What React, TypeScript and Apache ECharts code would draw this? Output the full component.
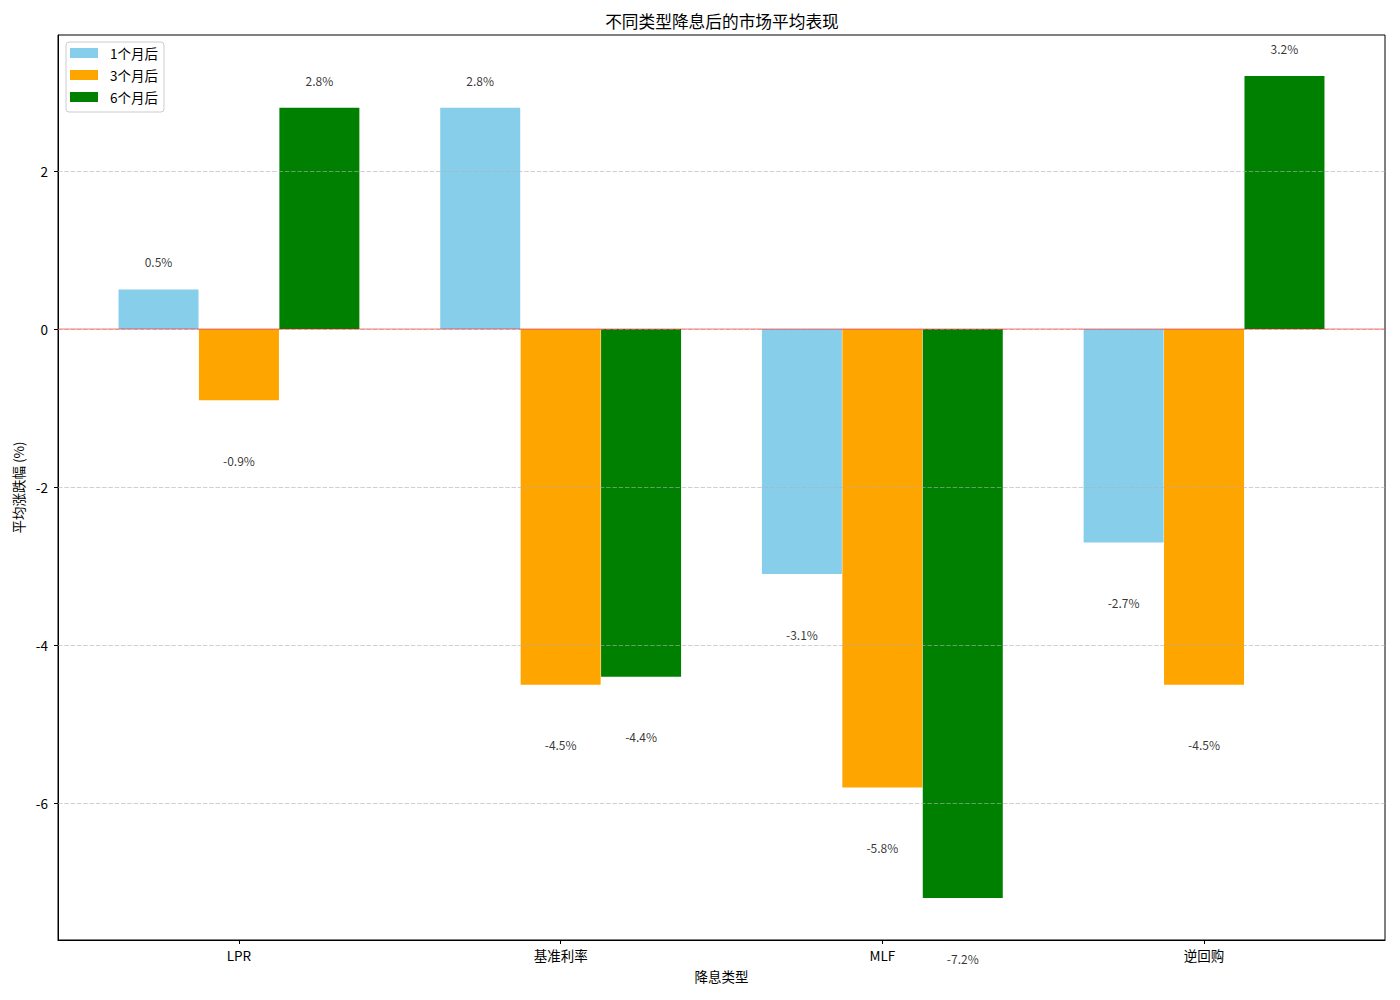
import React, { useEffect, useRef } from "react";
import * as echarts from "echarts";

const categories = ["LPR", "基准利率", "MLF", "逆回购"];
const seriesNames = ["1个月后", "3个月后", "6个月后"];
const oneMonth = [0.5, 2.8, -3.1, -2.7];
const threeMonth = [-0.9, -4.5, -5.8, -4.5];
const sixMonth = [2.8, -4.4, -7.2, 3.2];
const yTicks = [-6, -4, -2, 0, 2];
const colors = ["#87CEEB", "#FFA500", "#008000"];

const FONT = "'Noto Sans CJK SC', 'DejaVu Sans', sans-serif";

export default function App() {
  const ref = useRef<HTMLDivElement>(null);
  useEffect(() => {
    if (!ref.current) return;
    const chart = echarts.init(ref.current, undefined, { renderer: "svg" });
    const allSeries = [oneMonth, threeMonth, sixMonth];
    const offsets = [-0.25, 0, 0.25];

    const barSeries: any[] = allSeries.map((vals, s) => ({
      name: seriesNames[s],
      type: "bar",
      barWidth: 80,
      barGap: "-100%",
      itemStyle: { color: colors[s] },
      data: vals.map((v, i) => [i + offsets[s], v]),
      z: 2,
    }));

    barSeries[0].markLine = {
      silent: true,
      symbol: "none",
      label: { show: false },
      animation: false,
      lineStyle: { type: [4.5, 1.8], color: "rgba(176,176,176,0.75)", width: 0.8 },
      data: yTicks.map((t) => ({ yAxis: t })),
    };

    const labelData: any[] = [];
    allSeries.forEach((vals, s) => {
      vals.forEach((v, i) => {
        labelData.push({
          value: [i + offsets[s], v >= 0 ? v + 0.35 : v - 0.76],
          name: v.toFixed(1) + "%",
        });
      });
    });

    chart.setOption({
      animation: false,
      textStyle: { fontFamily: FONT },
      title: {
        text: "不同类型降息后的市场平均表现",
        left: 717,
        top: 8,
        textAlign: "center",
        textStyle: { fontSize: 16.7, fontWeight: "normal", color: "#000", fontFamily: FONT },
      },
      legend: {
        data: seriesNames,
        orient: "vertical",
        left: 66,
        top: 42,
        itemWidth: 28,
        itemHeight: 10,
        itemGap: 8,
        padding: [4, 6, 8, 4],
        borderColor: "#cccccc",
        borderWidth: 1,
        borderRadius: 3,
        backgroundColor: "#fff",
        icon: "rect",
        textStyle: { fontSize: 13.5, color: "#000", lineHeight: 14, padding: [0, 0, 0, 7], fontFamily: FONT },
      },
      grid: {
        left: 58,
        top: 35,
        right: 15,
        bottom: 60,
        show: true,
        borderColor: "#000",
        borderWidth: 1,
        backgroundColor: "transparent",
      },
      xAxis: {
        type: "value",
        min: -0.5625,
        max: 3.5625,
        name: "降息类型",
        nameLocation: "middle",
        nameGap: 29,
        nameTextStyle: { fontSize: 13.5, color: "#000", fontFamily: FONT },
        axisLine: { show: true, onZero: false, lineStyle: { color: "#000", width: 1 } },
        splitLine: { show: false },
        axisTick: { show: true, inside: false, length: 4, customValues: [0, 1, 2, 3], lineStyle: { color: "#000", width: 1 } },
        axisLabel: {
          customValues: [0, 1, 2, 3],
          formatter: (v: number) => categories[Math.round(v)] ?? "",
          fontSize: 13.5,
          color: "#000",
          margin: 8,
          fontFamily: FONT,
        },
      },
      yAxis: {
        type: "value",
        min: -7.73,
        max: 3.72,
        name: "平均涨跌幅 (%)",
        nameLocation: "middle",
        nameGap: 31,
        nameRotate: 90,
        nameTextStyle: { fontSize: 13.5, color: "#000", fontFamily: FONT },
        axisLine: { show: true, onZero: false, lineStyle: { color: "#000", width: 1 } },
        splitLine: { show: false },
        axisTick: { show: true, inside: false, length: 4, customValues: yTicks, lineStyle: { color: "#000", width: 1 } },
        axisLabel: {
          customValues: yTicks,
          fontSize: 13.5,
          color: "#000",
          margin: 10,
          fontFamily: FONT,
        },
      },
      series: [
        ...barSeries,
        {
          type: "scatter",
          symbolSize: 0,
          clip: false,
          silent: true,
          z: 5,
          label: {
            show: true,
            position: "inside",
            formatter: "{b}",
            fontSize: 12,
            color: "#000",
            fontFamily: FONT,
          },
          markLine: {
            silent: true,
            symbol: "none",
            label: { show: false },
            animation: false,
            lineStyle: { type: "solid", color: "rgba(255,0,0,0.35)", width: 1.5 },
            data: [{ yAxis: 0 }],
          },
          data: labelData,
        },
      ],
    });
    return () => chart.dispose();
  }, []);
  return (
    <div
      ref={ref}
      style={{ position: "absolute", left: 0, top: 0, width: 1400, height: 1000 }}
    />
  );
}
